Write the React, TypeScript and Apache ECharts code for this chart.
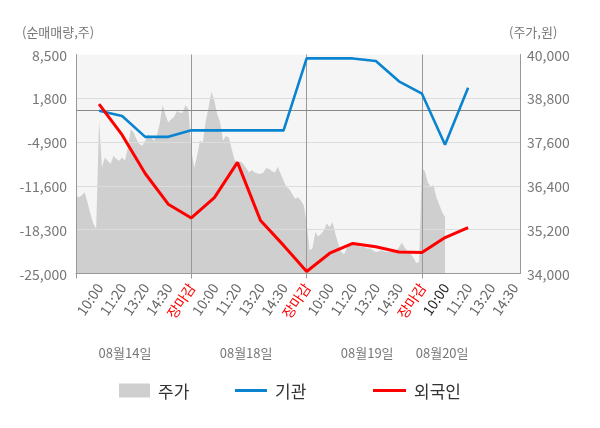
import React, { useEffect, useRef } from 'react';
import * as echarts from 'echarts';

// x-axis slot labels (each day: 5 slots; last day 4 slots)
const slotLabels = [
  '10:00', '11:20', '13:20', '14:30', '장마감',
  '10:00', '11:20', '13:20', '14:30', '장마감',
  '10:00', '11:20', '13:20', '14:30', '장마감',
  '10:00', '11:20', '13:20', '14:30',
];
const closeLabel = '장마감';
const currentSlot = 15;
const dateLabels = ['08월14일', '08월18일', '08월19일', '08월20일'];
const dateLabelAt = [17, 59, 101, 127];

const leftTicks = [-25000, -18300, -11600, -4900, 1800, 8500];
const rightTicks = [34000, 35200, 36400, 37600, 38800, 40000];

// 주가 (price), sampled every 1/8 slot
const price = [
  // 08/14
  36135, 36090, 36135, 36225, 35953, 35636, 35364, 35227, 38200, 36907,
  37180, 37090, 37000, 37226, 37136, 37090, 37180, 37090, 37453, 37954,
  37862, 37680, 37545, 37500, 37635, 37818, 37725, 37635, 37771, 38090,
  38617, 38363, 38134, 38227, 38290, 38453, 38407, 38407, 38617, 38500,
  // 08/18
  37400, 36890, 37226, 37635, 37590, 38180, 38560, 38980, 38726, 38363,
  38134, 37635, 37770, 37725, 37410, 37108, 37043, 37070, 37000, 36890,
  36770, 36836, 36770, 36740, 36727, 36770, 36890, 36863, 36800, 36770,
  36925, 36727, 36544, 36362, 36318, 36180, 36045, 36090, 36000, 35863,
  // 08/19
  35407, 34635, 34682, 35134, 35017, 35090, 35180, 35380, 35270, 35407,
  35072, 34818, 34590, 34526, 34709, 34772, 34800, 34790, 34754, 34725,
  34725, 34682, 34682, 34635, 34590, 34610, 34635, 34600, 34590, 34590,
  34590, 34610, 34709, 34840, 34709, 34610, 34545, 34436, 34290, 34318,
  // 08/20
  36907, 36800, 36500, 36380, 36427, 36090, 35890, 35680, 35544,
];

// 기관 / 외국인 net volume at slots 1..17
const institution = [
  -100, -900, -4100, -4100, -3100,
  -3100, -3100, -3100, -3100, 7900,
  7900, 7900, 7500, 4400, 2500,
  -5300, 3400,
];
const foreign = [
  900, -3800, -9700, -14400, -16500,
  -13400, -8000, -16900, -20700, -24700,
  -21900, -20400, -20900, -21700, -21800,
  -19500, -18000,
];

const STEPS_PER_SLOT = 8;
const STEPS_PER_DAY = 40;
const LAST_STEP = 154;
const categories = Array.from({ length: LAST_STEP + 1 }, (_, i) => String(i));
const slotPoints = (vals: number[]) => vals.map((v, k) => [(k + 1) * STEPS_PER_SLOT, v]);

const FONT = "'Noto Sans CJK KR', 'Noto Sans', sans-serif";
const BLUE = '#0a84d0';
const RED = '#ff0000';
const AREA = '#cfcfcf';

export default function App() {
  const ref = useRef<HTMLDivElement>(null);
  useEffect(() => {
    if (!ref.current) return;
    const chart = echarts.init(ref.current, undefined, { renderer: 'svg' });
    const slotOf = (value: any) => {
      const i = Number(value);
      if (i <= 0 || i % STEPS_PER_SLOT !== 0) return -1;
      return i / STEPS_PER_SLOT - 1;
    };
    const option: any = {
      animation: false,
      textStyle: { fontFamily: FONT },
      grid: {
        left: 76, right: 80, top: 54.5, bottom: 154.5,
        show: true, backgroundColor: '#f5f5f5', borderWidth: 0,
        outerBoundsMode: 'none',
      },
      graphic: [
        { type: 'text', left: 22, top: 25, style: { text: '(순매매량,주)', fontSize: 13, fill: '#777', fontFamily: FONT } },
        { type: 'text', left: 509, top: 25, style: { text: '(주가,원)', fontSize: 13, fill: '#777', fontFamily: FONT } },
      ],
      legend: [
        { data: ['주가'], left: 114, top: 377, icon: 'rect', itemWidth: 31, itemHeight: 14,
          textStyle: { fontSize: 17, color: '#333', fontFamily: FONT, padding: [0, 0, 0, 3] } },
        { data: ['기관'], left: 230, top: 377, icon: 'rect', itemWidth: 32, itemHeight: 3,
          textStyle: { fontSize: 17, color: '#333', fontFamily: FONT, padding: [0, 0, 0, 3] } },
        { data: ['외국인'], left: 368, top: 377, icon: 'rect', itemWidth: 33, itemHeight: 3,
          textStyle: { fontSize: 17, color: '#333', fontFamily: FONT, padding: [0, 0, 0, 3] } },
      ],
      xAxis: [
        {
          type: 'category', data: categories, boundaryGap: false, z: 3,
          axisLine: { show: true, lineStyle: { color: '#999' } },
          axisTick: { show: true, length: 5, interval: (i: number) => i % STEPS_PER_DAY === 0, lineStyle: { color: '#999' } },
          splitLine: {
            show: true,
            interval: (i: number) => i > 0 && i < LAST_STEP && i % STEPS_PER_DAY === 0,
            lineStyle: { color: '#999', width: 1 },
          },
          axisLabel: {
            interval: (i: number) => slotOf(i) >= 0,
            rotate: 56, margin: 11, fontSize: 14, fontFamily: FONT,
            formatter: (v: any) => { const s = slotOf(v); return s >= 0 ? slotLabels[s] : ''; },
            color: (v: any) => {
              const s = slotOf(v);
              if (slotLabels[s] === closeLabel) return RED;
              if (s === currentSlot) return '#222';
              return '#666';
            },
          },
        },
        {
          type: 'category', data: categories, boundaryGap: false, position: 'bottom', offset: 64,
          axisLine: { show: false }, axisTick: { show: false }, splitLine: { show: false },
          axisLabel: {
            interval: (i: number) => dateLabelAt.indexOf(i) >= 0,
            margin: 8, fontSize: 13, color: '#777', fontFamily: FONT,
            formatter: (v: any) => { const j = dateLabelAt.indexOf(Number(v)); return j >= 0 ? dateLabels[j] : ''; },
          },
        },
      ],
      yAxis: [
        {
          type: 'value', position: 'left', min: 0, max: leftTicks.length - 1, interval: 1, z: 3,
          axisLine: { show: true, lineStyle: { color: '#999' } },
          axisTick: { show: false },
          splitLine: { show: true, lineStyle: { color: ['#dcdcdc', '#dcdcdc', '#dcdcdc', '#dcdcdc', '#dcdcdc', 'rgba(0,0,0,0)'], width: 1 } },
          axisLabel: {
            margin: 9, fontSize: 14, color: '#777', fontFamily: FONT,
            formatter: (v: number) => { const t = leftTicks[Math.round(v)]; return t === undefined ? '' : t.toLocaleString('en-US'); },
          },
        },
        {
          type: 'value', position: 'right', min: 0, max: rightTicks.length - 1, interval: 1, z: 3,
          axisLine: { show: true, lineStyle: { color: '#999' } },
          axisTick: { show: false },
          splitLine: { show: false },
          axisLabel: {
            margin: 7, fontSize: 14, color: '#777', fontFamily: FONT,
            formatter: (v: number) => { const t = rightTicks[Math.round(v)]; return t === undefined ? '' : t.toLocaleString('en-US'); },
          },
        },
        { type: 'value', position: 'left', min: leftTicks[0], max: leftTicks[leftTicks.length - 1], show: false },
        { type: 'value', position: 'right', min: rightTicks[0], max: rightTicks[rightTicks.length - 1], show: false },
      ],
      series: [
        {
          name: '주가', type: 'line', xAxisIndex: 0, yAxisIndex: 3, data: price,
          symbol: 'none', color: AREA, z: 2,
          lineStyle: { width: 0, color: AREA },
          itemStyle: { color: AREA },
          areaStyle: { color: AREA, opacity: 1, origin: 'start' },
        },
        {
          name: '기관', type: 'line', xAxisIndex: 0, yAxisIndex: 2, data: slotPoints(institution),
          symbol: 'none', color: BLUE, z: 5,
          lineStyle: { width: 2.6, color: BLUE },
          itemStyle: { color: BLUE },
          markLine: {
            silent: true, symbol: 'none', label: { show: false },
            lineStyle: { color: '#888', width: 1, type: 'solid' },
            data: [{ yAxis: 0 }],
          },
        },
        {
          name: '외국인', type: 'line', xAxisIndex: 0, yAxisIndex: 2, data: slotPoints(foreign),
          symbol: 'none', color: RED, z: 6,
          lineStyle: { width: 3, color: RED },
          itemStyle: { color: RED },
        },
      ],
    };
    chart.setOption(option);
    return () => chart.dispose();
  }, []);
  return <div ref={ref} style={{ position: 'fixed', left: 0, top: 0, width: 600, height: 428 }} />;
}
